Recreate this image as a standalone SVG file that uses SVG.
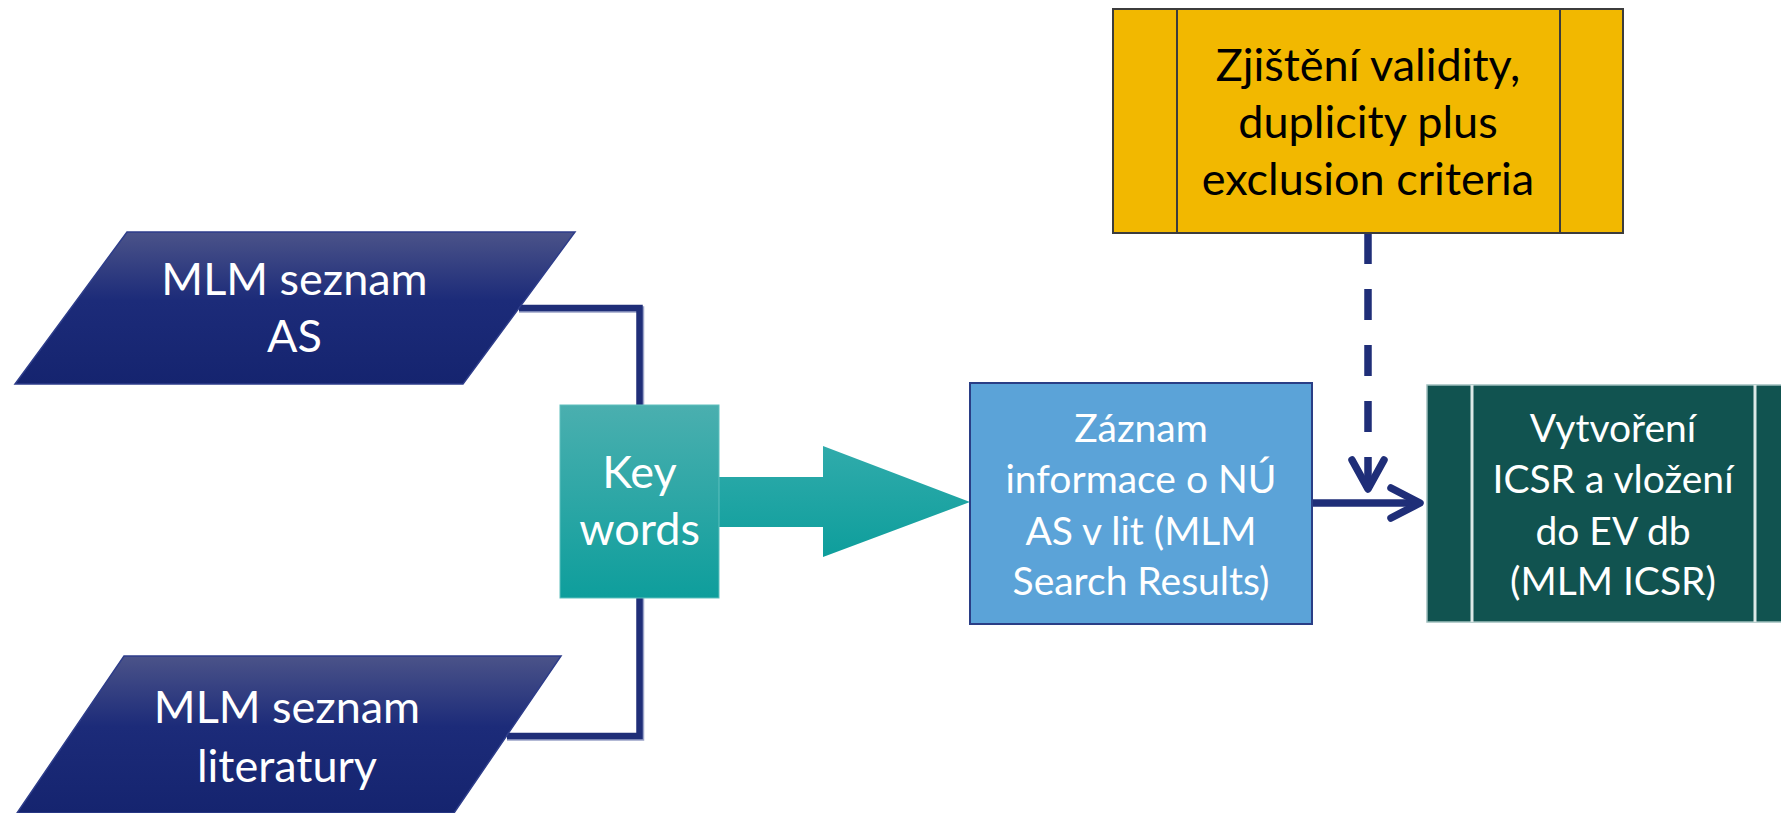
<svg xmlns="http://www.w3.org/2000/svg" width="1781" height="813" viewBox="0 0 1781 813">
<defs>
<linearGradient id="gNavy" x1="0" y1="0" x2="0" y2="1">
<stop offset="0" stop-color="#4B5389"/>
<stop offset="0.45" stop-color="#1C2B79"/>
<stop offset="1" stop-color="#15246F"/>
</linearGradient>
<linearGradient id="gTeal" x1="0" y1="0" x2="0" y2="1">
<stop offset="0" stop-color="#4AAFAF"/>
<stop offset="1" stop-color="#0E9E9C"/>
</linearGradient>
<linearGradient id="gTealArrow" gradientUnits="userSpaceOnUse" x1="0" y1="446" x2="0" y2="557">
<stop offset="0" stop-color="#30ABAB"/>
<stop offset="1" stop-color="#0E9E9C"/>
</linearGradient>
<style>
.t{font-family:"Lato","Liberation Sans",sans-serif;text-anchor:middle}
.w{fill:#FFFFFF}
.k{fill:#000000}
.big{font-size:45px}
.sm{font-size:39px}
.con{fill:none;stroke:#1F2E78;stroke-width:6.5}
.shadow{fill:none;stroke:#9AA3C8;stroke-width:6.5}
.arr{fill:none;stroke:#1F2E78;stroke-width:7.5;stroke-linecap:round;stroke-linejoin:round}
</style>
</defs>

<g id="connectors">
<path class="shadow" d="M519 309.5 H641 V405"/>
<path class="con" d="M519 308 H639.5 V405"/>
<path class="shadow" d="M641 598 V737.5 H507"/>
<path class="con" d="M639.5 598 V736 H507"/>
<polygon fill="url(#gTealArrow)" points="719,477 823,477 823,446 970,502 823,557 823,527 719,527"/>
<path class="con" style="stroke-width:7.5;stroke-dasharray:31 25" d="M1368 233 V488"/>
<polyline class="arr" points="1352,460 1368,489 1384,460"/>
<path class="con" style="stroke-width:7.5" d="M1312 503 H1419"/>
<polyline class="arr" points="1391,488 1420,503 1391,518"/>
</g>

<g id="node-mlm-as">
<polygon fill="url(#gNavy)" stroke="#2E3D8A" stroke-width="1.5" points="127,232 575,232 463,384 15,384"/>
<text class="t w big" x="294.5" y="295">MLM seznam</text>
<text class="t w big" x="294.5" y="352">AS</text>
</g>

<g id="node-mlm-lit">
<polygon fill="url(#gNavy)" stroke="#2E3D8A" stroke-width="1.5" points="124,656 561,656 454,813 17,813"/>
<text class="t w big" x="287" y="723">MLM seznam</text>
<text class="t w big" x="287" y="782">literatury</text>
</g>

<g id="node-keywords">
<rect x="560" y="405" width="159" height="193" fill="url(#gTeal)" stroke="#5FC0BE" stroke-width="1"/>
<text class="t w big" x="639.5" y="488">Key</text>
<text class="t w big" x="639.5" y="545">words</text>
</g>

<g id="node-zaznam">
<rect x="970" y="383" width="342" height="241" fill="#5BA3D8" stroke="#2A3E86" stroke-width="2"/>
<text class="t w sm" x="1141" y="442">Záznam</text>
<text class="t w sm" x="1141" y="493">informace o NÚ</text>
<text class="t w sm" x="1141" y="545">AS v lit (MLM</text>
<text class="t w sm" x="1141" y="595">Search Results)</text>
</g>

<g id="node-validity">
<rect x="1113" y="9" width="510" height="224" fill="#F2B800" stroke="#3C3C3C" stroke-width="2"/>
<line x1="1177" y1="9" x2="1177" y2="233" stroke="#3C3C3C" stroke-width="2"/>
<line x1="1560" y1="9" x2="1560" y2="233" stroke="#3C3C3C" stroke-width="2"/>
<text class="t k big" x="1368" y="81">Zjištění validity,</text>
<text class="t k big" x="1368" y="138">duplicity plus</text>
<text class="t k big" x="1368" y="195">exclusion criteria</text>
</g>

<g id="node-icsr">
<rect x="1427" y="385" width="373" height="237" fill="#115350" stroke="#9FBFBD" stroke-width="1.5"/>
<line x1="1472" y1="385" x2="1472" y2="622" stroke="#DDE8E7" stroke-width="3"/>
<line x1="1755" y1="385" x2="1755" y2="622" stroke="#DDE8E7" stroke-width="3"/>
<text class="t w sm" x="1613" y="442">Vytvoření</text>
<text class="t w sm" x="1613" y="493">ICSR a vložení</text>
<text class="t w sm" x="1613" y="545">do EV db</text>
<text class="t w sm" x="1613" y="595">(MLM ICSR)</text>
</g>
</svg>
